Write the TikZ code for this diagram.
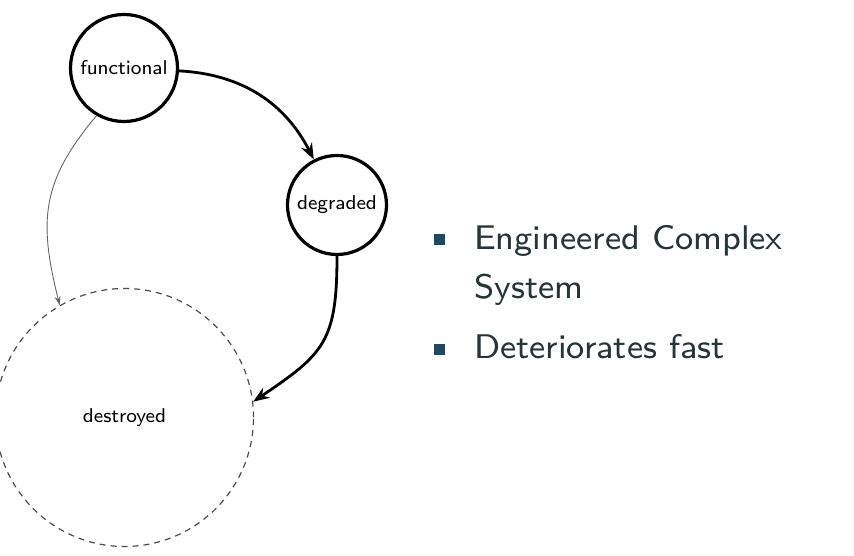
\documentclass[tikz,border=0pt]{standalone}
\usepackage{fontspec}
\newfontfamily\smallsans{lmsans8-regular.otf}
\usepackage{xcolor}
\definecolor{textgray}{RGB}{40,52,56}
\definecolor{bulletblue}{RGB}{33,72,96}
\usepackage{tikz}
\usetikzlibrary{arrows.meta}
\newcommand{\stagefont}{\smallsans\fontsize{20}{24}\selectfont}
\newcommand{\itemfont}{\smallsans\fontsize{34.2}{40}\selectfont}
\tikzset{
    stage/.style={draw, circle, line width=3.2pt, inner sep=0pt, font=\stagefont},
    lost/.style={stage, line width=1.2pt, draw=black!70, dash pattern=on 6pt off 5pt},
    move/.style={-{Stealth[length=16pt, width=12pt]}, line width=2.8pt},
    decay/.style={-{Stealth[length=9pt, width=6pt]}, line width=0.9pt, black!60},
    bullet/.style={fill=bulletblue, minimum size=11pt, inner sep=0pt},
    itemtext/.style={anchor=base west, inner sep=0pt, text=textgray, font=\itemfont}
}

\begin{document}
\begin{tikzpicture}[x=1pt, y=1pt]
    \useasboundingbox (0,0) rectangle (854,556);

    \node[stage, minimum size=107pt] (functional) at (124,488) {functional};
    \node[stage, minimum size=99pt] (degraded) at (337,351) {degraded};
    \node[lost, minimum size=258pt] (destroyed) at (124.5,138.5) {destroyed};

    \draw[move] (functional.-3) to[out=-3, in=117] (degraded.117);
    \draw[move] (degraded.south) to[out=270, in=34, looseness=1.3] (destroyed.7);
    \draw[decay] (functional.240) to[out=230, in=104, looseness=1.15] (destroyed.120);

    % bullet list
    \node[bullet] (b1) at (439.5,316) {};
    \node[itemtext] (engineered) at (474,306.7) {Engineered Complex};
    \node[itemtext] (system) at (474,257.5) {System};
    \node[bullet] (b2) at (439.5,206.5) {};
    \node[itemtext] (fast) at (474,197.2) {Deteriorates fast};
\end{tikzpicture}
\end{document}
